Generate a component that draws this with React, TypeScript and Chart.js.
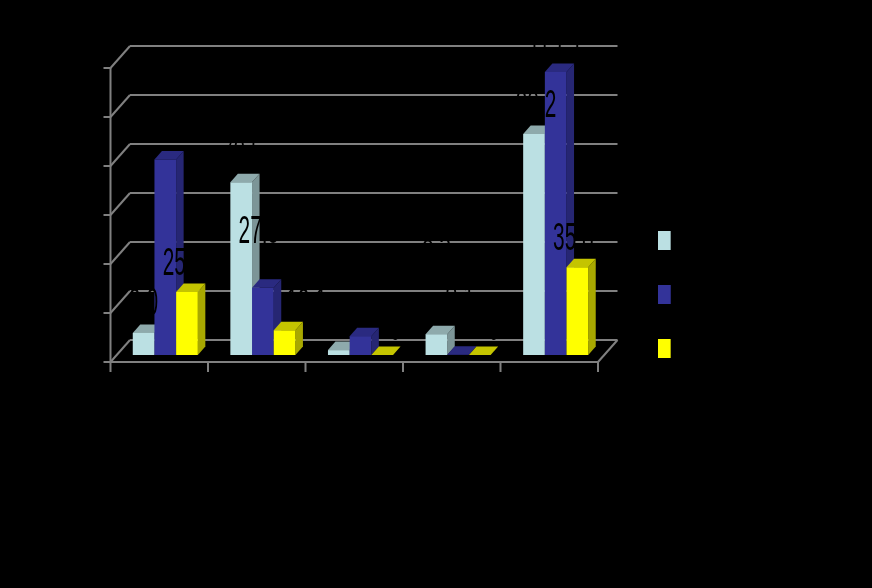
import React, { useEffect, useRef } from "react";
import { Chart, registerables } from "chart.js";

Chart.register(...registerables);

const categories = ["1", "2", "3", "4", "5"];
const seriesNames = ["Series 1", "Series 2", "Series 3"];
const lightValues = [9.0, 70.5, 2.0, 8.5, 90.2];
const blueValues = [79.8, 27.5, 7.7, 0.1, 115.5];
const yellowValues = [25.7, 10.1, 0, 0, 35.8];
const yTicks = [0, 20, 40, 60, 80, 100, 120];

const frontColors = ["#BBE0E3", "#333399", "#FFFF00"];
const sideColors = ["#7C9597", "#262673", "#A8A800"];
const topColors = ["#8EAAAC", "#2A2A80", "#C4C400"];
const gridColor = "#808080";

const DEPTH_X = 7.5;
const DEPTH_Y = 8.5;
// manual nudges of single value labels: [dataset, index, dx, extra lift]
const labelNudges: [number, number, number, number][] = [
  [0, 0, 4, 1],
  [1, 0, 5, 0],
  [0, 1, 5, 0],
  [1, 1, 0, 28],
  [2, 1, 26, -2],
  [1, 2, 0, -2],
  [2, 2, 17, -2],
  [0, 3, 4, 62],
  [1, 3, 6, 28],
  [2, 3, 18, -2],
  [0, 4, 6, 0],
  [1, 4, 2, 0],
];

function poly(ctx: CanvasRenderingContext2D, pts: number[][], fill: string) {
  ctx.fillStyle = fill;
  ctx.beginPath();
  pts.forEach((p, i) => (i ? ctx.lineTo(p[0], p[1]) : ctx.moveTo(p[0], p[1])));
  ctx.closePath();
  ctx.fill();
}

const scene3d = {
  id: "scene3d",
  beforeDatasetsDraw(chart: any) {
    const { ctx, chartArea, scales } = chart;
    const y = scales.y;
    const { left, right } = chartArea;
    ctx.save();
    ctx.strokeStyle = gridColor;
    ctx.lineWidth = 2;
    const line = (a: number, b: number, c: number, d: number) => {
      ctx.beginPath();
      ctx.moveTo(a, b);
      ctx.lineTo(c, d);
      ctx.stroke();
    };
    const fx = left - 6;
    const fr = right - 6.5;
    const bx = left + 13.5;
    const br = right + 13;
    yTicks.forEach((t) => {
      const p = y.getPixelForValue(t);
      line(bx, p - 15, br, p - 15);
      line(fx, p + 7, bx, p - 15);
      line(fx - 7, p + 7, fx, p + 7);
    });
    const p0 = y.getPixelForValue(0);
    const pTop = y.getPixelForValue(yTicks[yTicks.length - 1]);
    line(fx, pTop + 7, fx, p0 + 17);
    line(fx, p0 + 7, fr, p0 + 7);
    line(fr, p0 + 7, br, p0 - 15);
    const w = (fr - fx) / categories.length;
    categories.forEach((_, i) => {
      line(fx + (i + 1) * w, p0 + 7, fx + (i + 1) * w, p0 + 17);
    });
    ctx.restore();
  },
  // the library's own pass is replaced so series are painted left-to-right, back faces first
  beforeDatasetDraw() {
    return false;
  },
  afterDatasetsDraw(chart: any) {
    const { ctx } = chart;
    chart.data.datasets.forEach((_: any, i: number) => {
      const meta = chart.getDatasetMeta(i);
      ctx.save();
      meta.data.forEach((bar: any) => {
        const l = bar.x - bar.width / 2;
        const r = bar.x + bar.width / 2;
        const top = bar.y;
        const base = bar.base;
        poly(ctx, [[r, base], [r + DEPTH_X, base - DEPTH_Y], [r + DEPTH_X, top - DEPTH_Y], [r, top]], sideColors[i]);
        poly(ctx, [[l, top], [l + DEPTH_X, top - DEPTH_Y], [r + DEPTH_X, top - DEPTH_Y], [r, top]], topColors[i]);
      });
      ctx.restore();
      meta.controller.draw();
    });
    ctx.save();
    ctx.fillStyle = "#000000";
    ctx.font = '38px "Liberation Sans"';
    ctx.textAlign = "center";
    ctx.textBaseline = "alphabetic";
    chart.data.datasets.forEach((ds: any, i: number) => {
      chart.getDatasetMeta(i).data.forEach((bar: any, k: number) => {
        const n = labelNudges.find((e) => e[0] === i && e[1] === k);
        const dx = n ? n[2] : 0;
        const lift = 17 + (n ? n[3] : 0);
        const v = ds.data[k];
        ctx.save();
        ctx.translate(bar.x - 4 + dx, bar.y - lift);
        ctx.scale(0.55, 1);
        ctx.fillText(v === 0 ? "0" : v.toFixed(1), 0, 0);
        ctx.restore();
      });
    });
    // legend
    const lx = 658;
    const tops = [231, 285, 339];
    chart.data.datasets.forEach((ds: any, i: number) => {
      ctx.fillStyle = frontColors[i];
      ctx.fillRect(lx, tops[i], 12, 19);
      ctx.fillStyle = sideColors[i];
      ctx.fillRect(lx + 12, tops[i], 1, 19);
      ctx.save();
      ctx.fillStyle = "#000000";
      ctx.font = '24px "Liberation Sans"';
      ctx.textAlign = "left";
      ctx.textBaseline = "middle";
      ctx.fillText(ds.label, lx + 20, tops[i] + 10);
      ctx.restore();
    });
    ctx.restore();
  },
};

export default function App() {
  const ref = useRef<HTMLCanvasElement>(null);
  useEffect(() => {
    document.body.style.margin = "0";
    document.body.style.background = "#000000";
    const series = [lightValues, blueValues, yellowValues];
    const chart = new Chart(ref.current as HTMLCanvasElement, {
      type: "bar",
      data: {
        labels: categories,
        datasets: series.map((data, i) => ({
          label: seriesNames[i],
          data,
          backgroundColor: frontColors[i],
          borderWidth: 0,
          barPercentage: 1,
          categoryPercentage: 2 / 3,
        })),
      },
      options: {
        responsive: false,
        animation: false,
        devicePixelRatio: 1,
        layout: { padding: { top: 61, right: 267.5, left: 0, bottom: 0 } },
        plugins: { legend: { display: false }, tooltip: { enabled: false } },
        scales: {
          x: {
            grid: { display: false },
            border: { display: false },
            ticks: { color: "#000000", padding: 20, font: { family: "Liberation Sans", size: 20 } },
            afterFit: (s: any) => {
              s.height = 233;
            },
          },
          y: {
            min: 0,
            max: 120,
            grid: { display: false },
            border: { display: false },
            afterBuildTicks: (s: any) => {
              s.ticks = yTicks.map((value) => ({ value }));
            },
            ticks: { color: "#000000", padding: 16, font: { family: "Liberation Sans", size: 20 } },
            afterFit: (s: any) => {
              s.width = 116.5;
            },
          },
        },
      },
      plugins: [scene3d],
    } as any);
    return () => chart.destroy();
  }, []);
  return <canvas ref={ref} width={872} height={588} style={{ display: "block", background: "#000000" }} />;
}
